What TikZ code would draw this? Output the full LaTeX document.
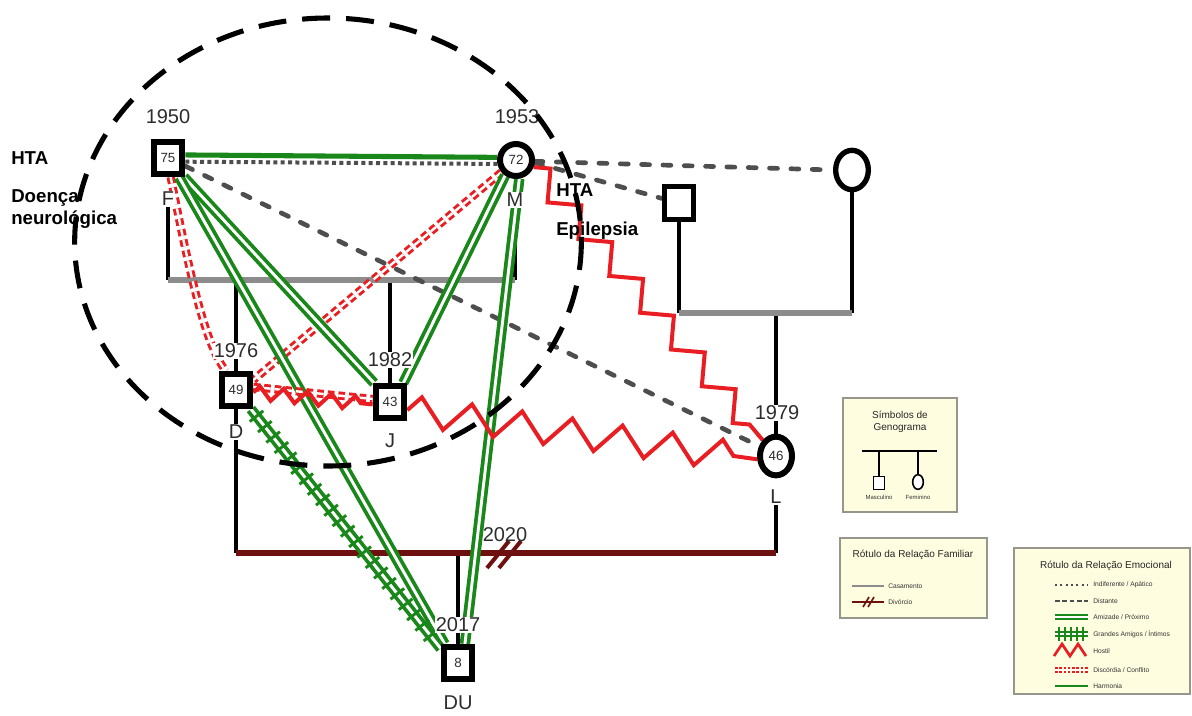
\documentclass[tikz,border=0pt]{standalone}
\usepackage{fontspec}
\setmainfont{Liberation Sans}
\usetikzlibrary{shapes.geometric,decorations.pathmorphing,decorations.markings}
\pgfdeclarelayer{back}
\pgfsetlayers{back,main}

\definecolor{grn}{RGB}{25,135,25}
\definecolor{hostred}{RGB}{232,30,34}
\definecolor{divred}{RGB}{110,16,16}
\definecolor{margray}{RGB}{140,140,140}
\definecolor{distgray}{RGB}{78,78,78}
\definecolor{legfill}{RGB}{255,253,224}
\definecolor{legline}{RGB}{150,150,140}
\definecolor{txtgray}{RGB}{45,45,45}

\tikzset{
    male/.style={draw, line width=4.5pt, minimum width=21.5pt, minimum height=24pt, inner sep=0pt, fill=white, text=txtgray, font=\fontsize{10}{10}\selectfont},
    female/.style={ellipse, draw, line width=4.5pt, minimum width=24pt, minimum height=24pt, inner sep=0pt, fill=white, text=txtgray, font=\fontsize{10}{10}\selectfont},
    yearlab/.style={text=txtgray, inner sep=0.75pt, font=\fontsize{15}{15}\selectfont},
    namelab/.style={yearlab, fill=white},
    health/.style={anchor=west, align=left, inner sep=0.75pt, font=\bfseries\fontsize{14}{16.5}\selectfont},
    kin/.style={line width=3pt},
    marriage/.style={margray, line width=3.8pt},
    divorce/.style={divred, line width=3.8pt},
    harmony/.style={grn, line width=3.8pt},
    indiff/.style={distgray, line width=3pt, dash pattern=on 3pt off 2.5pt},
    distant/.style={distgray, line width=3.5pt, line cap=round, dash pattern=on 6pt off 10pt},
    friendship/.style={draw=grn, double=white, line width=2.8pt, double distance=2.2pt},
    closeticks/.style={postaction={decorate, decoration={markings, mark=between positions 0.03 and 0.97 step 10pt with {\draw[grn, line width=2.2pt] (0pt,-6.5pt) -- (0pt,6.5pt);}}}},
    discord/.style={draw=hostred, double=white, line width=2.2pt, double distance=1.8pt, dash pattern=on 5pt off 3pt},
    hostile/.style 2 args={hostred, line width=3pt, line join=miter, decorate, decoration={zigzag, segment length=#1, amplitude=#2}},
    bigloop/.style={line width=3.8pt, dash pattern=on 21pt off 12pt},
    legendbox/.style={draw=legline, fill=legfill, line width=0.8pt},
    legtitle/.style={align=center, inner sep=0.75pt, text=black!85, font=\fontsize{7.5}{9}\selectfont},
    legtext/.style={anchor=west, inner sep=0.75pt, text=black!80, font=\fontsize{5}{6}\selectfont}
}

\begin{document}
\begin{tikzpicture}[x=0.75pt,y=0.75pt,yscale=-1,xscale=1]
    \useasboundingbox (0,0) rectangle (1192,715);

    %Shape: Square F
    \node[male] (F) at (168,158) {75};
    \node[namelab] (Fyr) at (168,117) {1950};
    \node[namelab] (Fname) at (168,199) {F};
    %Shape: Circle M
    \node[female] (M) at (516,160) {72};
    \node[namelab] (Myr) at (517,117) {1953};
    \node[namelab] (Mname) at (515,200) {M};
    %Shape: Square D
    \node[male] (D) at (236,390) {49};
    \node[namelab] (Dyr) at (236,351) {1976};
    \node[namelab] (Dname) at (236,432) {D};
    %Shape: Square J
    \node[male] (J) at (390,402) {43};
    \node[namelab] (Jyr) at (390,360) {1982};
    \node[namelab] (Jname) at (390,441) {J};
    %Shape: Circle L
    \node[female, minimum width=24pt, minimum height=29pt] (L) at (776,456) {46};
    \node[namelab] (Lyr) at (777,413) {1979};
    \node[namelab] (Lname) at (776,497) {L};
    %Shape: Square DU
    \node[male] (DU) at (458,663) {8};
    \node[namelab] (DUyr) at (458,625) {2017};
    \node[namelab] (DUname) at (458,703) {DU};
    %Shape: parents of L
    \node[male, line width=4pt, minimum width=21.5pt, minimum height=25pt] (PF) at (679,203) {};
    \node[female, line width=4pt, minimum width=24.5pt, minimum height=29.5pt] (PM) at (852,170) {};
    \node[yearlab] (DLyr) at (505,535) {2020};

    % Text Node
    \node[health] (hF) at (10,158) {HTA};
    \node[health] (hFb) at (10,209) {Doença\\neurológica};
    \node[health] (hM) at (555,190) {HTA};
    \node[health] (hMb) at (555,231) {Epilepsia};

    \begin{pgfonlayer}{back}
    \fill[white] (0,0) rectangle (1192,715);

    %Straight Lines: family F + M
    \coordinate (FMl) at (168,280);
    \coordinate (FMr) at (515,280);
    \coordinate (FMd) at (236,280);
    \coordinate (FMj) at (390,280);
    \draw[kin] (Fname.south) -- (FMl);
    \draw[kin] (Mname.south) -- (FMr);
    \draw[kin] (FMd) -- (Dyr.north);
    \draw[kin] (FMj) -- (Jyr.north);
    \draw[marriage] (FMl) -- (FMr);
    \draw[kin] (Dyr) -- (D);
    \draw[kin] (Jyr) -- (J);
    \draw[kin] (D) -- (Dname);

    %Straight Lines: family of L
    \coordinate (PPl) at (679,313);
    \coordinate (PPr) at (852,313);
    \coordinate (PPc) at (776,313);
    \draw[kin] (PF.south) -- (PPl);
    \draw[kin] (PM.south) -- (PPr);
    \draw[kin] (PPc) -- (L);
    \draw[marriage] (PPl) -- (PPr);

    %Straight Lines: D + L, divorce
    \coordinate (DLl) at (236,553);
    \coordinate (DLr) at (776,553);
    \coordinate (DLc) at (458,553);
    \draw[kin] (Dname.south) -- (DLl);
    \draw[kin] (Lname.south) -- (DLr);
    \draw[kin] (DLc) -- (DU);
    \draw[divorce] (DLl) -- (DLr);
    \coordinate (sl1a) at (487,568); \coordinate (sl1b) at (509,541);
    \coordinate (sl2a) at (499,568); \coordinate (sl2b) at (521,541);
    \draw[divorce, line width=3pt] (sl1a) -- (sl1b);
    \draw[divorce, line width=3pt] (sl2a) -- (sl2b);

    %Emotional lines
    \draw[harmony] (F.10) -- (M.172);
    \draw[indiff] (F.-12) -- (M.-168);
    \draw[distant] (F.-25) -- (L.150);
    \draw[distant] (M.-8) -- (PF.165);
    \draw[distant] (M.-4) -- (PM.west);
    \draw[discord] (F.-82) .. controls (190,275) and (205,345) .. (D.118);
    \draw[discord] (M.-140) -- (D.30);
    \draw[friendship] (F.-50) -- (J.130);
    \draw[friendship] (F.-60) -- (DU.125);
    \draw[friendship] (M.-125) -- (J.55);
    \draw[friendship] (M.-80) -- (DU.70);
    \draw[friendship] (D.-52) -- (DU.140);
    \path[closeticks] (D.-52) -- (DU.140);
    \draw[discord] (D.10) -- (J.170);
    \draw[hostile={18pt}{5pt}] (D.-8) -- (J.-172);
    \draw[hostile={38pt}{11pt}] (J.-25) -- (L.190);
    \draw[hostile={36pt}{9pt}] (M.-22) -- (L.130);
    \end{pgfonlayer}

    %Shape: Ellipse (dashed)
    \draw[bigloop] (328,242) ellipse [x radius=190pt, y radius=168pt];

    %Legend: symbols
    \draw[legendbox] (843,398) rectangle (957,512);
    \node[legtitle] (lgA) at (900,422) {Símbolos de\\Genograma};
    \coordinate (lgbl) at (862,451);
    \coordinate (lgbr) at (937,451);
    \coordinate (lgbm) at (879,451);
    \coordinate (lgbf) at (918,451);
    \node[draw, line width=1.2pt, fill=white, minimum width=8pt, minimum height=10pt, inner sep=0pt] (lgM) at (879,483) {};
    \node[ellipse, draw, line width=1.2pt, fill=white, minimum width=8pt, minimum height=11pt, inner sep=0pt] (lgF) at (918,482) {};
    \draw[line width=1.5pt] (lgbl) -- (lgbr);
    \draw[line width=1.2pt] (lgbm) -- (lgM.north);
    \draw[line width=1.2pt] (lgbf) -- (lgF.north);
    \node[legtext, anchor=center, font=\fontsize{4.5}{5}\selectfont] at (879,497) {Masculino};
    \node[legtext, anchor=center, font=\fontsize{4.5}{5}\selectfont] at (918,497) {Feminino};

    %Legend: family relation
    \draw[legendbox] (840,538) rectangle (987,618);
    \node[legtitle] (lgB) at (913,555) {Rótulo da Relação Familiar};
    \draw[margray, line width=1.5pt] (852,586) -- (884,586);
    \node[legtext] at (887,586) {Casamento};
    \draw[divred, line width=1.5pt] (852,602) -- (884,602);
    \draw[divred, line width=1.2pt] (863,607) -- (869,597);
    \draw[divred, line width=1.2pt] (868,607) -- (874,597);
    \node[legtext] at (887,602) {Divórcio};

    %Legend: emotional relation
    \draw[legendbox] (1014,548) rectangle (1190,694);
    \node[legtitle] (lgC) at (1106,566) {Rótulo da Relação Emocional};
    \draw[distgray, line width=1.8pt, dash pattern=on 1.5pt off 2.5pt] (1055,585) -- (1088,585);
    \node[legtext] at (1092,585) {Indiferente / Apático};
    \draw[distgray, line width=2pt, dash pattern=on 3.5pt off 2pt] (1055,601) -- (1088,601);
    \node[legtext] at (1092,601) {Distante};
    \draw[draw=grn, double=white, line width=1.3pt, double distance=1.4pt] (1055,617) -- (1088,617);
    \node[legtext] at (1092,617) {Amizade / Próximo};
    \draw[draw=grn, double=white, line width=1.3pt, double distance=1.4pt] (1055,634) -- (1088,634);
    \foreach \tx in {1059,1065,1071,1077,1083}
        \draw[grn, line width=1.2pt] (\tx,627) -- (\tx,641);
    \node[legtext] at (1092,634) {Grandes Amigos / Íntimos};
    \draw[hostred, line width=2pt, line join=miter] (1054,656) -- (1062,644) -- (1070,656) -- (1078,644) -- (1086,656);
    \node[legtext] at (1092,651) {Hostil};
    \draw[draw=hostred, double=white, line width=1.4pt, double distance=1.2pt, dash pattern=on 2pt off 1.2pt] (1055,670) -- (1088,670);
    \node[legtext] at (1092,670) {Discórdia / Conflito};
    \draw[grn, line width=2pt] (1055,686) -- (1088,686);
    \node[legtext] at (1092,686) {Harmonia};
\end{tikzpicture}
\end{document}
